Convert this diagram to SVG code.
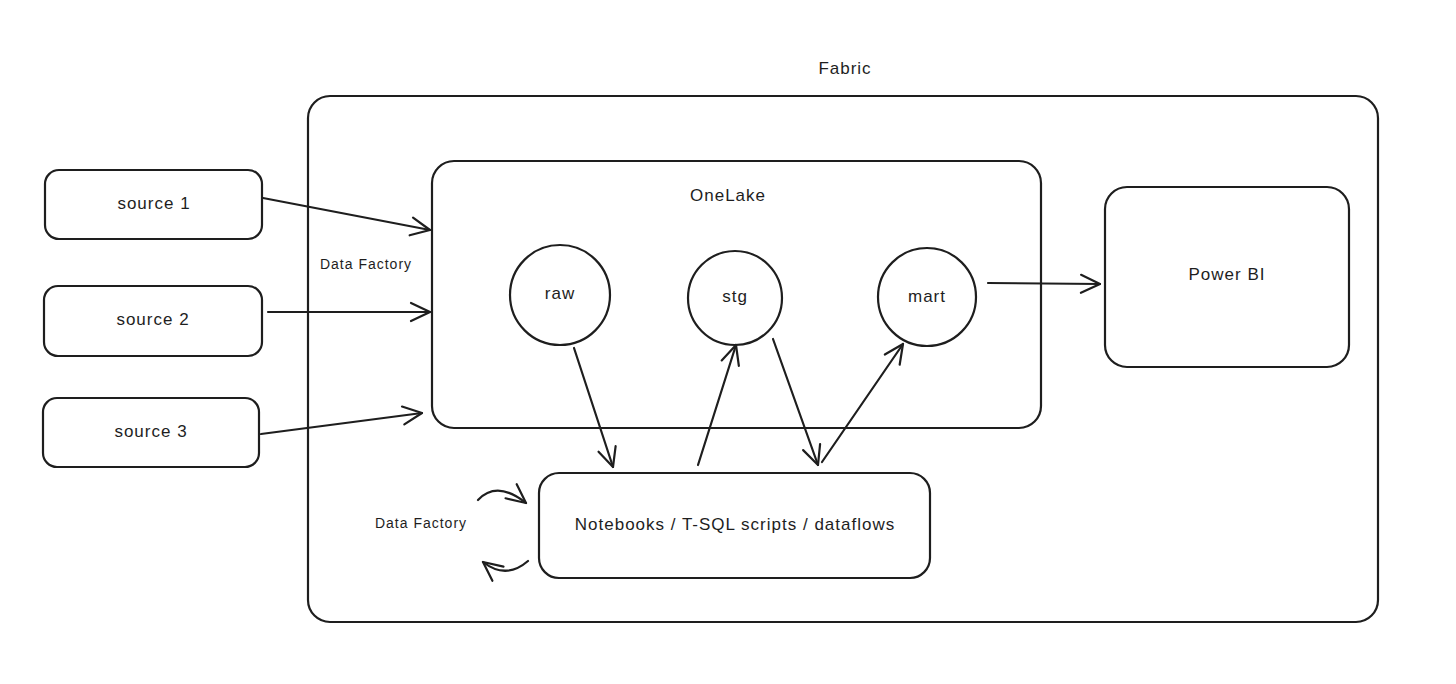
<svg xmlns="http://www.w3.org/2000/svg" width="1456" height="684" viewBox="0 0 1456 684">
<defs>
<style>
.box{fill:none;stroke:#1e1e1e;stroke-width:2.2}
.lbl{font-family:"Liberation Sans","DejaVu Sans",sans-serif;font-size:17px;letter-spacing:1px;fill:#1e1e1e;text-anchor:middle;dominant-baseline:middle}
.sm{font-size:14px;letter-spacing:1px}
.con{fill:none;stroke:#1e1e1e;stroke-width:2.2;stroke-linecap:round}
</style>
<marker id="ah" viewBox="0 0 24 24" refX="21" refY="12" markerWidth="24" markerHeight="24" markerUnits="userSpaceOnUse" orient="auto">
<path d="M2 3 L21 12 L2 21" fill="none" stroke="#1e1e1e" stroke-width="2.2" stroke-linecap="round" stroke-linejoin="round"/>
</marker>
</defs>
<rect width="1456" height="684" fill="#ffffff"/>
<g id="fabric">
<rect class="box" x="308" y="96" width="1070" height="526" rx="22"/>
<text class="lbl" x="845" y="70">Fabric</text>
</g>
<g id="onelake">
<rect class="box" x="432" y="161" width="609" height="267" rx="22"/>
<text class="lbl" x="728" y="197">OneLake</text>
</g>
<g id="source1">
<rect class="box" x="45" y="170" width="217" height="69" rx="14"/>
<text class="lbl" x="154" y="205">source 1</text>
</g>
<g id="source2">
<rect class="box" x="44" y="286" width="218" height="70" rx="14"/>
<text class="lbl" x="153" y="321">source 2</text>
</g>
<g id="source3">
<rect class="box" x="43" y="398" width="216" height="69" rx="14"/>
<text class="lbl" x="151" y="433">source 3</text>
</g>
<g id="raw">
<circle class="box" cx="560" cy="295" r="50"/>
<text class="lbl" x="560" y="295">raw</text>
</g>
<g id="stg">
<circle class="box" cx="735" cy="298" r="47"/>
<text class="lbl" x="735" y="298">stg</text>
</g>
<g id="mart">
<circle class="box" cx="927" cy="297" r="49"/>
<text class="lbl" x="927" y="298">mart</text>
</g>
<g id="powerbi">
<rect class="box" x="1105" y="187" width="244" height="180" rx="22"/>
<text class="lbl" x="1227" y="276">Power BI</text>
</g>
<g id="notebooks">
<rect class="box" x="539" y="473" width="391" height="105" rx="20"/>
<text class="lbl" x="735" y="526">Notebooks / T-SQL scripts / dataflows</text>
</g>
<g id="labels">
<text class="lbl sm" x="366" y="265">Data Factory</text>
<text class="lbl sm" x="421" y="524">Data Factory</text>
</g>
<g id="connectors">
<path class="con" d="M263 198 L430 230" marker-end="url(#ah)"/>
<path class="con" d="M268 312 L430 312" marker-end="url(#ah)"/>
<path class="con" d="M261 434 L422 413" marker-end="url(#ah)"/>
<path class="con" d="M988 283 L1100 284" marker-end="url(#ah)"/>
<path class="con" d="M574 348 L613 467" marker-end="url(#ah)"/>
<path class="con" d="M698 465 L736 345" marker-end="url(#ah)"/>
<path class="con" d="M773 339 L818 465" marker-end="url(#ah)"/>
<path class="con" d="M822 462 L903 344" marker-end="url(#ah)"/>
<path class="con" d="M478 500 Q497 480 526 503" marker-end="url(#ah)"/>
<path class="con" d="M528 561 Q506 580 483 562" marker-end="url(#ah)"/>
</g>
</svg>
